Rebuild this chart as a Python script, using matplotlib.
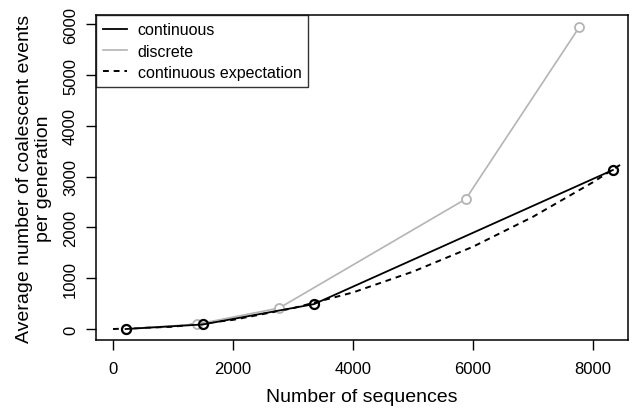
import matplotlib
matplotlib.use("Agg")
import matplotlib.pyplot as plt

plt.rcParams['font.family'] = ['Liberation Sans', 'DejaVu Sans']

# continuous simulation
cont_x = [210, 1500, 3350, 8330]
cont_y = [0, 90, 490, 3130]
# discrete simulation
disc_x = [210, 1400, 2770, 5880, 7770]
disc_y = [0, 95, 413, 2560, 5940]
# continuous expectation curve
exp_x = [0, 1000, 2000, 3000, 4000, 5000, 6000, 7000, 8000, 8450]
exp_y = [0, 45, 180, 410, 720, 1130, 1620, 2210, 2890, 3230]

xticks = [0, 2000, 4000, 6000, 8000]
yticks = [0, 1000, 2000, 3000, 4000, 5000, 6000]

fig = plt.figure(figsize=(6.4, 4.1), dpi=100)
ax = fig.add_axes([96/640, 1-341/410, (628-96)/640, (341-16)/410])

gray = '#b4b4b4'
ax.plot(exp_x, exp_y, color='black', linestyle=(0, (3, 2.5)), linewidth=1.4,
        label='continuous expectation', zorder=2)
ax.plot(disc_x, disc_y, color=gray, linewidth=1.2, marker='o', markersize=6.5,
        markerfacecolor='white', markeredgecolor=gray, markeredgewidth=1.3,
        label='discrete', zorder=3)
ax.plot(cont_x, cont_y, color='black', linewidth=1.3, marker='o', markersize=6.5,
        markerfacecolor='none', markeredgecolor='black', markeredgewidth=1.6,
        label='continuous', zorder=4)

ax.set_xlim(-283, 8583)
ax.set_ylim(-216, 6181)
ax.set_xticks(xticks)
ax.set_yticks(yticks)
ax.set_xticklabels([str(v) for v in xticks], fontsize=12)
ax.set_yticklabels([str(v) for v in yticks], fontsize=12, rotation=90, va='center')
ax.tick_params(direction='out', length=7, width=1)
ax.tick_params(axis='x', pad=8)
ax.tick_params(axis='y', pad=6)
for s in ax.spines.values():
    s.set_linewidth(1.1)

ax.set_xlabel('Number of sequences', fontsize=14, labelpad=9)
ax.set_ylabel('Average number of coalescent events\nper generation', fontsize=14,
              labelpad=8, linespacing=1.15)

h, l = ax.get_legend_handles_labels()
order = [2, 1, 0]
leg = ax.legend([h[i] for i in order], [l[i] for i in order], loc='upper left',
                bbox_to_anchor=(0, 1), borderaxespad=0, fontsize=11.5,
                frameon=True, fancybox=False, handlelength=1.5, handletextpad=0.65,
                labelspacing=0.4, borderpad=0.45)
for lh in leg.get_lines():
    lh.set_marker('')
leg.get_frame().set_edgecolor('black')
leg.get_frame().set_linewidth(1.0)

fig.savefig('out.png', dpi=100)
